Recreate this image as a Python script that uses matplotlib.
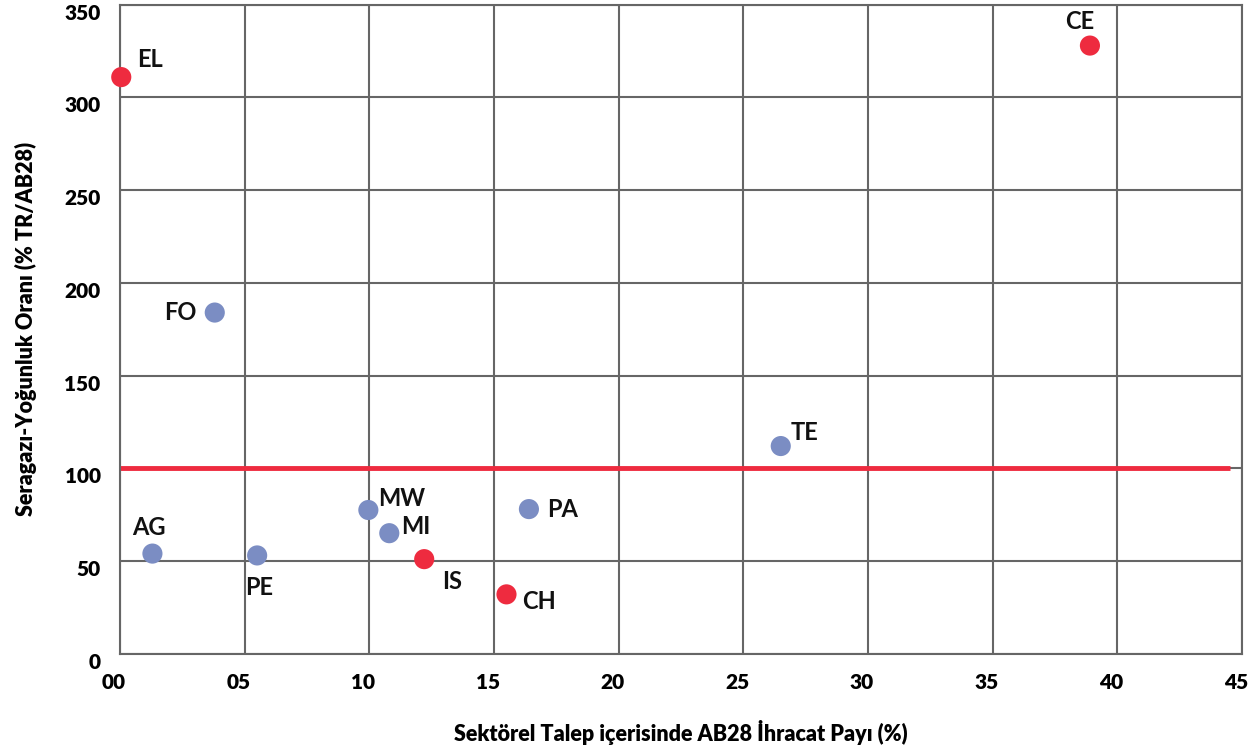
import matplotlib
matplotlib.use("Agg")
import matplotlib.pyplot as plt
import matplotlib.transforms as mtransforms

plt.rcParams['font.family'] = ['Lato', 'DejaVu Sans']

# sektör kodları ve değerleri
sectors = ["EL", "CE", "FO", "TE", "AG", "PE", "MW", "MI", "IS", "PA", "CH"]
export_share = [0.05, 38.9, 3.8, 26.5, 1.3, 5.5, 9.96, 10.8, 12.2, 16.4, 15.5]
intensity = [311, 328, 184, 112, 54, 53, 77.5, 65, 51, 78, 32]
is_high = [True, True, False, False, False, False, False, False, True, False, True]

# etiket konumları (piksel kaydırma)
offsets = {
    "EL": (16, 18, "left"), "CE": (-10, 24, "center"), "FO": (-18, 0, "right"),
    "TE": (10, 14, "left"), "AG": (-20, 26, "left"), "PE": (-12, -32, "left"),
    "MW": (10, 12, "left"), "MI": (12, 7, "left"), "IS": (18, -22, "left"),
    "PA": (18, 0, "left"), "CH": (16, -7, "left"),
}

xticks = [0, 5, 10, 15, 20, 25, 30, 35, 40, 45]
xtick_labels = ["00", "05", "10", "15", "20", "25", "30", "35", "40", "45"]
yticks = [0, 50, 100, 150, 200, 250, 300, 350]

red = "#EE2B3F"
blue = "#7B8DC3"

fig = plt.figure(figsize=(12.58, 7.47), dpi=100)
ax = fig.add_axes([0.0954, 0.1249, 0.8919, 0.8687])

ax.plot([-0.1, 44.5], [100, 100], color=red, lw=3.5, zorder=2, solid_capstyle="butt")

colors = [red if h else blue for h in is_high]
ax.scatter(export_share, intensity, s=210, c=colors, zorder=3, linewidths=0, clip_on=False)

for name, x, y in zip(sectors, export_share, intensity):
    dx, dy, ha = offsets[name]
    ax.annotate(name, (x, y), xytext=(dx, dy), textcoords="offset pixels",
                ha=ha, va="center", fontsize=17, fontweight="bold", color="#111111")

ax.set_xlim(0, 45)
ax.set_ylim(0, 350)
ax.set_xticks(xticks)
ax.set_xticklabels(xtick_labels)
ax.set_yticks(yticks)
ax.grid(True, color="#666666", lw=1.5)
ax.set_axisbelow(True)
for s in ax.spines.values():
    s.set_color("#666666")
    s.set_linewidth(1.5)
ax.tick_params(length=0, labelsize=15, pad=14)

# etiketleri biraz kaydır (orijinaldeki gibi)
xshift = mtransforms.ScaledTranslation(-6 / 100, 0, fig.dpi_scale_trans)
yshift = mtransforms.ScaledTranslation(0, -7 / 100, fig.dpi_scale_trans)
for lab in ax.get_xticklabels():
    lab.set_fontweight("heavy")
    lab.set_transform(lab.get_transform() + xshift)
for lab in ax.get_yticklabels():
    lab.set_fontweight("heavy")
    lab.set_transform(lab.get_transform() + yshift)

ax.set_xlabel("Sektörel Talep içerisinde AB28 İhracat Payı (%)", fontsize=15.5,
              fontweight="heavy", labelpad=20)
ax.set_ylabel("Seragazı-Yoğunluk Oranı (% TR/AB28)", fontsize=15.5,
              fontweight="heavy", labelpad=20)

fig.savefig("out.png", dpi=100)
